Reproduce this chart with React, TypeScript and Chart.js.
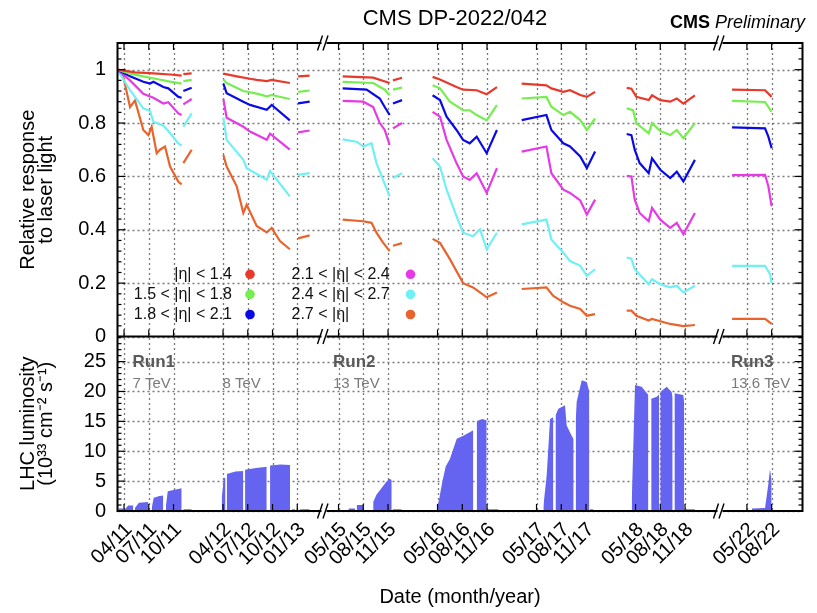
import React, { useEffect, useRef } from 'react';
import { Chart, registerables } from 'chart.js';
Chart.register(...registerables);

// ---------- data (time = months since January 2011) ----------
const X_TICK_LABELS = ['04/11', '07/11', '10/11', '04/12', '07/12', '10/12', '01/13', '05/15', '08/15', '11/15', '05/16', '08/16', '11/16', '05/17', '08/17', '11/17', '05/18', '08/18', '11/18', '05/22', '08/22'];
const RESPONSE_TICKS = [0, 0.2, 0.4, 0.6, 0.8, 1];
const LUMI_TICKS = [0, 5, 10, 15, 20, 25];

type P = [number, number] | null;

const ETA_00_14: P[] = [
  [2.19, 1.0], [4.33, 0.99], [6.56, 0.986], [8.58, 0.982], [9.99, 0.978], null,
  [10.19, 0.983], [11.2, 0.986], null,
  [15.04, 0.985], [16.66, 0.975], [18.27, 0.966], [19.08, 0.962], [20.3, 0.957], [20.9, 0.962], [23.1, 0.95], null,
  [24.1, 0.975], [25.5, 0.978], null,
  [52.5, 0.975], [56.2, 0.97], [58.2, 0.95], null,
  [58.6, 0.96], [59.7, 0.97], null,
  [63.4, 0.973], [64.3, 0.963], [66.3, 0.935], [67.1, 0.925], [68.75, 0.923], [69.96, 0.908], [71.2, 0.935], null,
  [74.2, 0.948], [77.2, 0.941], [77.8, 0.93], [79.25, 0.917], [80.06, 0.923], [81.3, 0.905], [82.1, 0.898], [83.1, 0.917], null,
  [86.93, 0.932], [87.5, 0.929], [88.1, 0.898], [89.6, 0.886], [90.0, 0.904], [91.0, 0.886], [92.2, 0.88], [93.0, 0.892], [93.8, 0.873], [95.2, 0.904], null,
  [134.2, 0.925], [138.2, 0.923], [139.0, 0.898],
];
const ETA_15_18: P[] = [
  [2.19, 1.0], [3.73, 0.985], [5.34, 0.975], [6.96, 0.965], [8.58, 0.955], [9.99, 0.948], null,
  [10.19, 0.957], [11.2, 0.962], null,
  [15.04, 0.963], [15.44, 0.95], [17.46, 0.92], [19.08, 0.91], [20.3, 0.9], [20.9, 0.905], [23.1, 0.89], null,
  [24.1, 0.917], [25.5, 0.922], null,
  [52.5, 0.954], [56.2, 0.95], [57.6, 0.925], [58.2, 0.904], null,
  [58.6, 0.925], [59.7, 0.933], null,
  [63.4, 0.942], [64.3, 0.93], [65.5, 0.88], [67.1, 0.848], [67.9, 0.848], [68.75, 0.83], [69.96, 0.81], [71.2, 0.867], null,
  [74.2, 0.892], [77.2, 0.898], [77.8, 0.861], [79.25, 0.83], [80.06, 0.842], [81.3, 0.811], [82.1, 0.774], [83.1, 0.817], null,
  [86.93, 0.855], [87.7, 0.848], [88.1, 0.8], [89.6, 0.761], [90.0, 0.8], [91.0, 0.77], [92.2, 0.755], [93.0, 0.774], [93.8, 0.743], [95.2, 0.8], null,
  [134.2, 0.883], [138.2, 0.879], [139.0, 0.842],
];
const ETA_18_21: P[] = [
  [2.19, 1.0], [3.73, 0.975], [5.34, 0.955], [6.15, 0.948], [6.56, 0.955], [7.77, 0.935], [8.37, 0.93], [9.59, 0.898], [9.99, 0.895], null,
  [10.19, 0.92], [11.2, 0.932], null,
  [15.04, 0.948], [15.44, 0.912], [17.46, 0.88], [18.27, 0.868], [20.3, 0.85], [20.9, 0.868], [23.1, 0.81], null,
  [24.1, 0.874], [25.5, 0.88], null,
  [52.5, 0.93], [55.4, 0.925], [57.0, 0.892], [57.6, 0.86], [58.2, 0.83], null,
  [58.6, 0.873], [59.7, 0.886], null,
  [63.4, 0.904], [64.3, 0.886], [65.1, 0.824], [66.3, 0.774], [67.1, 0.737], [67.9, 0.724], [68.75, 0.749], [69.96, 0.687], [71.2, 0.774], null,
  [74.2, 0.811], [77.2, 0.83], [77.8, 0.774], [79.25, 0.724], [80.06, 0.712], [81.3, 0.675], [82.1, 0.631], [83.1, 0.693], null,
  [86.93, 0.759], [87.5, 0.755], [87.9, 0.7], [88.5, 0.65], [89.6, 0.612], [90.0, 0.668], [91.0, 0.625], [92.2, 0.594], [93.0, 0.618], [93.8, 0.581], [95.2, 0.662], null,
  [134.2, 0.784], [138.2, 0.78], [138.6, 0.749], [139.0, 0.706],
];
const ETA_21_24: P[] = [
  [2.19, 1.0], [3.73, 0.96], [5.34, 0.91], [6.56, 0.895], [7.77, 0.873], [8.37, 0.878], [9.59, 0.836], [9.99, 0.83], null,
  [10.19, 0.87], [11.2, 0.89], null,
  [15.04, 0.89], [15.44, 0.82], [17.46, 0.786], [18.27, 0.768], [20.3, 0.737], [20.7, 0.76], [23.1, 0.7], null,
  [24.1, 0.765], [25.5, 0.772], null,
  [52.5, 0.883], [55.0, 0.88], [56.2, 0.86], [57.0, 0.8], [57.6, 0.774], [58.2, 0.718], null,
  [58.6, 0.78], [59.7, 0.8], null,
  [63.4, 0.842], [64.3, 0.824], [65.1, 0.737], [66.3, 0.65], [67.1, 0.6], [67.9, 0.587], [68.75, 0.612], [69.96, 0.538], [71.2, 0.631], null,
  [74.2, 0.693], [77.2, 0.712], [77.8, 0.612], [79.25, 0.55], [80.06, 0.538], [81.3, 0.51], [82.1, 0.457], [83.1, 0.513], null,
  [86.93, 0.602], [87.5, 0.6], [87.9, 0.513], [88.5, 0.463], [89.6, 0.432], [90.0, 0.482], [91.0, 0.438], [92.2, 0.407], [93.0, 0.426], [93.8, 0.383], [95.2, 0.463], null,
  [134.2, 0.605], [138.2, 0.606], [138.6, 0.563], [139.0, 0.488],
];
const ETA_24_27: P[] = [
  [2.19, 1.0], [3.73, 0.923], [5.34, 0.855], [6.15, 0.845], [6.56, 0.805], [7.77, 0.79], [8.37, 0.77], [9.59, 0.724], [9.99, 0.715], null,
  [10.19, 0.786], [11.2, 0.836], null,
  [15.04, 0.82], [15.44, 0.737], [17.46, 0.662], [17.87, 0.631], [20.3, 0.588], [20.7, 0.62], [23.1, 0.525], null,
  [24.1, 0.606], [25.5, 0.612], null,
  [52.5, 0.739], [54.2, 0.73], [55.0, 0.712], [56.0, 0.724], [56.6, 0.65], [57.4, 0.587], [58.2, 0.525], null,
  [58.6, 0.594], [59.7, 0.612], null,
  [63.4, 0.668], [64.3, 0.637], [65.1, 0.55], [66.3, 0.451], [67.1, 0.389], [68.3, 0.376], [69.15, 0.402], [69.96, 0.327], [71.2, 0.389], null,
  [74.2, 0.42], [77.2, 0.438], [77.8, 0.364], [79.25, 0.314], [80.06, 0.283], [81.3, 0.265], [82.1, 0.227], [83.1, 0.252], null,
  [86.93, 0.296], [87.5, 0.292], [87.9, 0.252], [89.6, 0.196], [90.0, 0.215], [91.0, 0.196], [92.2, 0.184], [93.0, 0.19], [93.8, 0.165], [95.2, 0.19], null,
  [134.2, 0.265], [138.2, 0.265], [138.8, 0.234], [139.0, 0.2],
];
const ETA_27_UP: P[] = [
  [2.19, 1.0], [2.92, 0.973], [3.73, 0.86], [4.33, 0.885], [5.34, 0.774], [5.95, 0.755], [6.35, 0.786], [6.96, 0.687], [7.36, 0.7], [7.97, 0.712], [8.58, 0.637], [9.59, 0.58], [9.99, 0.57], null,
  [10.19, 0.65], [11.2, 0.7], null,
  [15.04, 0.68], [15.44, 0.637], [16.66, 0.563], [17.46, 0.463], [17.87, 0.494], [19.08, 0.414], [20.3, 0.39], [20.9, 0.407], [21.9, 0.358], [23.1, 0.327], null,
  [24.1, 0.368], [25.5, 0.379], null,
  [52.5, 0.438], [55.0, 0.432], [56.0, 0.426], [56.6, 0.389], [57.4, 0.352], [58.2, 0.32], null,
  [58.6, 0.34], [59.7, 0.35], null,
  [63.4, 0.366], [64.3, 0.351], [65.5, 0.29], [67.1, 0.2], [68.3, 0.184], [69.15, 0.165], [69.96, 0.147], [71.2, 0.165], null,
  [74.2, 0.178], [77.2, 0.184], [78.0, 0.153], [79.25, 0.128], [80.06, 0.115], [81.3, 0.103], [82.1, 0.078], [83.1, 0.084], null,
  [86.93, 0.097], [87.5, 0.097], [88.1, 0.078], [89.6, 0.06], [90.0, 0.066], [92.2, 0.047], [93.8, 0.039], [95.2, 0.043], null,
  [134.2, 0.066], [138.2, 0.066], [139.0, 0.047],
];

// LHC instantaneous luminosity envelope, 10^33 cm^-2 s^-1
const LUMI: P[] = [
  [2.31, 0.4], [2.92, 0.4], null,
  [3.12, 0.3], [3.5, 0.9], [4.13, 0.9], null,
  [4.33, 0.5], [4.8, 1.4], [5.95, 1.5], null,
  [6.36, 0.5], [6.6, 2.2], [7.3, 2.5], [7.76, 2.6], null,
  [8.09, 1.0], [8.3, 3.3], [9.0, 3.5], [9.99, 3.8], null,
  [10.19, 0.3], [11.2, 0.3], null,
  [14.84, 2], [15.1, 5.6], [15.3, 5.5], null,
  [15.45, 6.2], [16.5, 6.6], [17.46, 6.7], null,
  [17.67, 6.9], [19, 7.2], [20.3, 7.4], null,
  [20.7, 7.6], [22, 7.8], [23.12, 7.7], null,
  [23.33, 0.3], [23.73, 0.3], null,
  [24.33, 0.3], [25.5, 0.3], null,
  [53.2, 0.4], [54.0, 0.4], null,
  [54.2, 1.0], [55.0, 1.0], null,
  [56.2, 1.5], [56.6, 2.7], [57.2, 3.8], [57.8, 4.9], [58.2, 5.4], [58.45, 5.2], null,
  [58.55, 0.3], [59.66, 0.3], null,
  [63.94, 0.5], [64.2, 2], [64.6, 5], [65.0, 7.5], [65.5, 8.7], [66.33, 12.1], [67.13, 12.6], [68.34, 13.5], null,
  [68.75, 15.0], [69.4, 15.4], [69.96, 15.2], null,
  [70.1, 0.3], [71.4, 0.3], null,
  [76.83, 0.8], [77.23, 5.9], [77.64, 15.4], [78.04, 15.7], null,
  [78.3, 16.0], [78.65, 17.1], [79.45, 17.7], [79.66, 14.3], [80.26, 12.6], [80.5, 12], null,
  [80.75, 15], [80.87, 18.3], [81.48, 21.9], [82.08, 21.6], [82.4, 20], null,
  [82.48, 0.3], [82.9, 0.3], null,
  [87.54, 1.4], [87.94, 21.1], [88.75, 20.8], [89.56, 19.4], null,
  [89.9, 18.8], [90.57, 19.1], [90.85, 19.5], null,
  [91.0, 19.9], [91.78, 20.8], [92.38, 19.9], [92.5, 19], null,
  [92.72, 19.7], [93.8, 19.4], [93.9, 18], null,
  [94.0, 0.3], [95.2, 0.3], null,
  [136.58, 0.4], [138.2, 0.5], [138.4, 2.5], [138.6, 4.5], [138.8, 7.0], [139.0, 5],
];

const SERIES = [
  { label: '|η| < 1.4', color: '#e8392b', data: ETA_00_14 },
  { label: '1.5 < |η| < 1.8', color: '#77ee50', data: ETA_15_18 },
  { label: '1.8 < |η| < 2.1', color: '#0a0ae6', data: ETA_18_21 },
  { label: '2.1 < |η| < 2.4', color: '#e53ae6', data: ETA_21_24 },
  { label: '2.4 < |η| < 2.7', color: '#70f0f5', data: ETA_24_27 },
  { label: '2.7 < |η|', color: '#e8642c', data: ETA_27_UP },
];
const LUMI_COLOR = '#6464f0';

// ---------- broken time axis ----------
const monthsOf = (label: string) => {
  const [mm, yy] = label.split('/').map(Number);
  return (yy - 11) * 12 + (mm - 1);
};
// the long shutdowns are cut out of the axis
const axisPos = (m: number) => (m < 40 ? m - 3 : m < 115 ? m - 26 : m - 60.5);
const AXIS_MIN = -0.79;
const AXIS_MAX = 82.24;
const BREAKS = [24.24, 72.24];

const toXY = (pts: P[]) => {
  let lastX = 0;
  return pts.map((p) => {
    if (!p) return { x: lastX, y: null as any };
    lastX = axisPos(p[0]);
    return { x: lastX, y: p[1] };
  });
};

const FONT = '"Liberation Sans", Arial, Helvetica, sans-serif';

const drawDottedGrid = (chart: any) => {
  const { ctx, chartArea: a, scales } = chart;
  const xs = scales.x, yR = scales.yR, yL = scales.yL;
  ctx.save();
  ctx.strokeStyle = '#7a7a7a';
  ctx.lineWidth = 1.3;
  ctx.setLineDash([2, 3]);
  const line = (x1: number, y1: number, x2: number, y2: number) => {
    ctx.beginPath(); ctx.moveTo(x1, y1); ctx.lineTo(x2, y2); ctx.stroke();
  };
  for (const t of xs.ticks) {
    const px = Math.round(xs.getPixelForValue(t.value)) + 0.5;
    line(px, a.top, px, a.bottom);
  }
  for (const sc of [yR, yL]) {
    for (const t of sc.ticks) {
      const py = Math.round(sc.getPixelForValue(t.value)) + 0.5;
      line(a.left, py, a.right, py);
    }
  }
  ctx.restore();
};

const decorPlugin = {
  id: 'decor',
  beforeDatasetsDraw(chart: any) {
    drawDottedGrid(chart);
  },
  afterDraw(chart: any) {
    const { ctx, chartArea: a, scales } = chart;
    const xs = scales.x, yR = scales.yR, yL = scales.yL;
    const mid = yR.bottom;
    ctx.save();
    const seg = (x1: number, y1: number, x2: number, y2: number) => {
      ctx.beginPath(); ctx.moveTo(x1, y1); ctx.lineTo(x2, y2); ctx.stroke();
    };
    ctx.strokeStyle = '#000';
    // tick marks on x
    ctx.lineWidth = 1.2;
    for (const t of xs.ticks) {
      const px = xs.getPixelForValue(t.value);
      seg(px, a.top, px, a.top + 7);
      seg(px, mid, px, mid - 7);
      seg(px, a.bottom, px, a.bottom - 7);
    }
    // y ticks (major + minor), both sides
    const yTicks = (sc: any, step: number, majorEvery: number, maxV: number) => {
      for (let i = 0; i * step <= maxV + 1e-9; i++) {
        const v = i * step;
        const py = sc.getPixelForValue(v);
        const len = i % majorEvery === 0 ? 8 : 4;
        seg(a.left, py, a.left + len, py);
        seg(a.right, py, a.right - len, py);
      }
    };
    yTicks(yR, 0.04, 5, 1.1);
    yTicks(yL, 1, 5, 29);
    // frame
    ctx.lineWidth = 2;
    ctx.strokeRect(a.left, a.top, a.right - a.left, a.bottom - a.top);
    seg(a.left, mid, a.right, mid);
    // axis breaks "//"
    for (const b of BREAKS) {
      const px = xs.getPixelForValue(b);
      for (const yy of [a.top, mid, a.bottom]) {
        ctx.fillStyle = '#fff';
        ctx.fillRect(px - 2.5, yy - 2, 5, 4);
        ctx.lineWidth = 1.4;
        seg(px - 6.5, yy + 7.5, px - 1.5, yy - 7.5);
        seg(px - 1, yy + 7.5, px + 4, yy - 7.5);
      }
    }
    // legend
    ctx.font = `16px ${FONT}`;
    ctx.textBaseline = 'middle';
    const rows = [274.3, 294.4, 314.5];
    SERIES.forEach((s, i) => {
      const col = i < 3 ? 0 : 1;
      const y = rows[i % 3];
      ctx.fillStyle = '#111';
      if (col === 0) { ctx.textAlign = 'right'; ctx.fillText(s.label, 232, y); }
      else { ctx.textAlign = 'left'; ctx.fillText(s.label, 291.5, y); }
      ctx.fillStyle = s.color;
      ctx.beginPath();
      ctx.arc(col === 0 ? 250 : 410.5, y, 4.8, 0, Math.PI * 2);
      ctx.fill();
    });
    // run annotations
    ctx.textAlign = 'left';
    ctx.textBaseline = 'alphabetic';
    ctx.fillStyle = '#5a5a5a';
    ctx.font = `bold 17px ${FONT}`;
    ctx.fillText('Run1', 132.5, 367);
    ctx.fillText('Run2', 333, 367);
    ctx.fillText('Run3', 731, 367);
    ctx.fillStyle = '#7a7a7a';
    ctx.font = `15px ${FONT}`;
    ctx.fillText('7 TeV', 132.5, 388);
    ctx.fillText('8 TeV', 222.5, 388);
    ctx.fillText('13 TeV', 333, 388);
    ctx.fillText('13.6 TeV', 731, 388);
    // titles
    ctx.fillStyle = '#000';
    ctx.textAlign = 'center';
    ctx.font = `22px ${FONT}`;
    ctx.fillText('CMS DP-2022/042', 455, 25);
    ctx.textAlign = 'left';
    ctx.font = `italic 18px ${FONT}`;
    const prelim = 'Preliminary';
    const wP = ctx.measureText(prelim).width;
    ctx.font = `bold 18px ${FONT}`;
    const wC = ctx.measureText('CMS ').width;
    const x0 = 805 - wP - wC;
    ctx.fillText('CMS ', x0, 28);
    ctx.font = `italic 18px ${FONT}`;
    ctx.fillText(prelim, x0 + wC, 28);
    ctx.restore();
  },
};

const gridCommon = { display: false, drawTicks: false };
const borderCommon = { display: false };

export default function App() {
  const ref = useRef<HTMLCanvasElement>(null);
  useEffect(() => {
    Chart.defaults.font.family = FONT;
    const datasets: any[] = [
      {
        label: 'LHC luminosity',
        data: toXY(LUMI),
        yAxisID: 'yL',
        fill: 'origin',
        backgroundColor: LUMI_COLOR,
        borderWidth: 0,
        pointRadius: 0,
        spanGaps: false,
      },
      ...SERIES.map((s) => ({
        label: s.label,
        data: toXY(s.data),
        yAxisID: 'yR',
        borderColor: s.color,
        backgroundColor: s.color,
        borderWidth: 2.2,
        pointRadius: 0,
        fill: false,
        spanGaps: false,
        tension: 0,
      })),
    ];
    const chart = new Chart(ref.current!, {
      type: 'line',
      data: { datasets },
      plugins: [decorPlugin],
      options: {
        animation: false,
        responsive: false,
        devicePixelRatio: 1,
        layout: { padding: { top: 43, right: 14.5, left: 0, bottom: 0 } },
        plugins: { legend: { display: false }, tooltip: { enabled: false } },
        scales: {
          x: {
            type: 'linear',
            min: AXIS_MIN,
            max: AXIS_MAX,
            afterBuildTicks: (s: any) => {
              s.ticks = X_TICK_LABELS.map((l) => ({ value: axisPos(monthsOf(l)) }));
            },
            afterFit: (s: any) => { s.height = 102; },
            ticks: {
              autoSkip: false,
              minRotation: 45,
              maxRotation: 45,
              padding: 7,
              labelOffset: 5,
              color: '#000',
              font: { size: 20 },
              callback: (_v: any, i: number) => X_TICK_LABELS[i],
            },
            grid: gridCommon,
            border: borderCommon,
            title: { display: true, text: 'Date (month/year)', color: '#000', font: { size: 20 }, padding: { top: 0, bottom: 4 } },
          },
          yL: {
            type: 'linear',
            position: 'left',
            stack: 'panels',
            stackWeight: 174.5,
            min: 0,
            max: 29.2,
            afterBuildTicks: (s: any) => { s.ticks = LUMI_TICKS.map((v) => ({ value: v })); },
            afterFit: (s: any) => { s.width = 117.5; },
            ticks: { autoSkip: false, padding: 11.5, color: '#000', font: { size: 20 }, callback: (v: any) => String(v) },
            grid: gridCommon,
            border: borderCommon,
            title: { display: true, text: ['LHC luminosity', '(10³³ cm⁻² s⁻¹)'], color: '#000', font: { size: 20, lineHeight: 0.875 }, padding: { top: 19.75, bottom: 0 } },
          },
          yR: {
            type: 'linear',
            position: 'left',
            stack: 'panels',
            stackWeight: 293.5,
            min: 0,
            max: 1.1,
            afterBuildTicks: (s: any) => { s.ticks = RESPONSE_TICKS.map((v) => ({ value: v })); },
            afterFit: (s: any) => { s.width = 117.5; },
            ticks: { autoSkip: false, padding: 11.5, color: '#000', font: { size: 20 }, callback: (v: any) => String(+Number(v).toFixed(1)) },
            grid: gridCommon,
            border: borderCommon,
            title: { display: true, text: ['Relative response', 'to laser light'], color: '#000', font: { size: 20, lineHeight: 0.875 }, padding: { top: 19.75, bottom: 0 } },
          },
        } as any,
      },
    } as any);
    return () => chart.destroy();
  }, []);
  return (
    <div style={{ position: 'fixed', left: 0, top: 0, width: 817, height: 613, background: '#fff' }}>
      <canvas ref={ref} width={817} height={613} style={{ display: 'block', width: 817, height: 613 }} />
    </div>
  );
}
